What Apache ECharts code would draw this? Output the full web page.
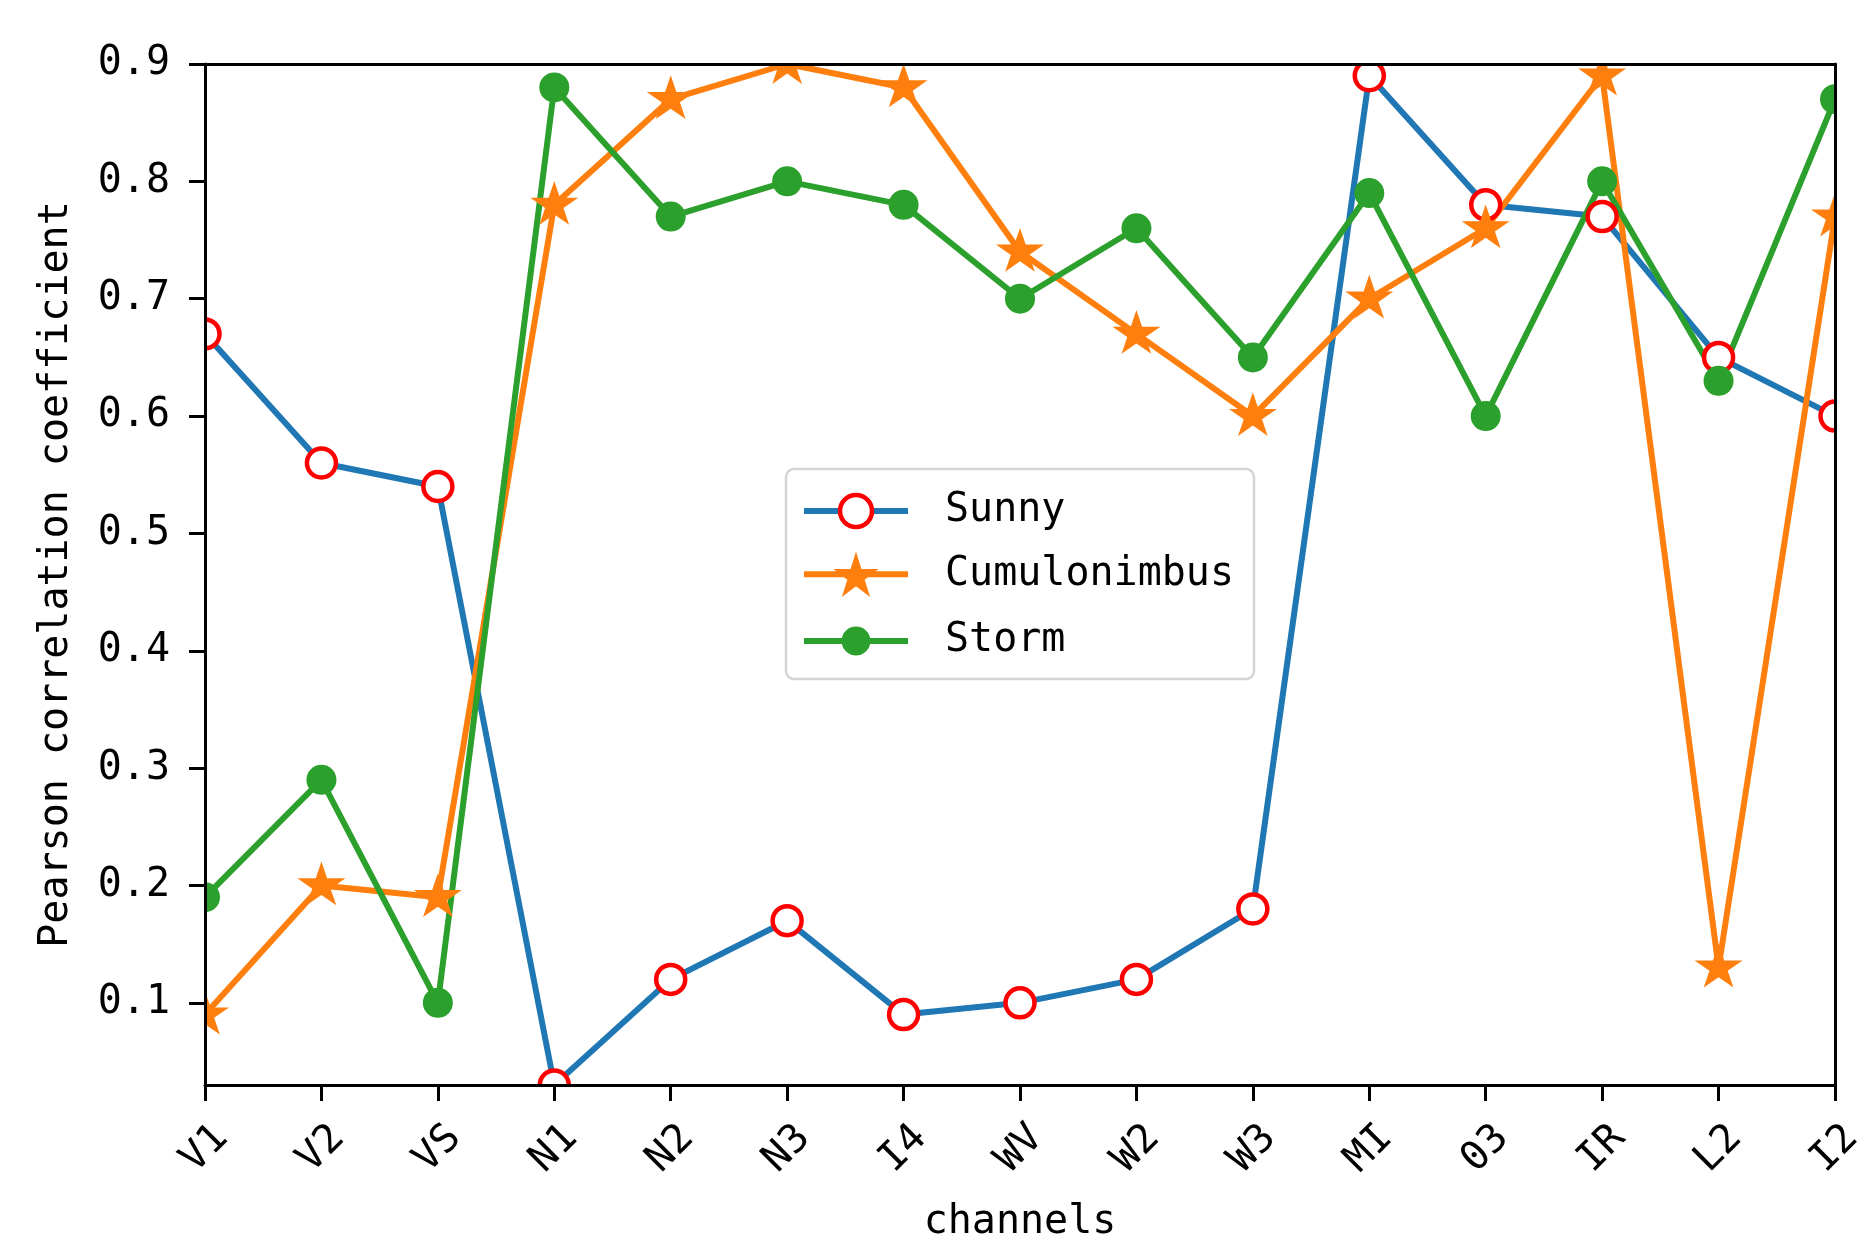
<!DOCTYPE html>
<html>
<head>
<meta charset="utf-8">
<script src="https://cdn.jsdelivr.net/npm/echarts@6/dist/echarts.min.js"></script>
<style>
html,body{margin:0;padding:0;background:#fff;overflow:hidden;}
#chart{width:1860px;height:1240px;}
</style>
</head>
<body>
<div id="chart"></div>
<script>
// ---- data ----
const categories = ['V1','V2','VS','N1','N2','N3','I4','WV','W2','W3','MI','03','IR','L2','I2'];
const sunny        = [0.67,0.56,0.54,0.03,0.12,0.17,0.09,0.10,0.12,0.18,0.89,0.78,0.77,0.65,0.60];
const cumulonimbus = [0.09,0.20,0.19,0.78,0.87,0.90,0.88,0.74,0.67,0.60,0.70,0.76,0.89,0.13,0.77];
const storm        = [0.19,0.29,0.10,0.88,0.77,0.80,0.78,0.70,0.76,0.65,0.79,0.60,0.80,0.63,0.87];
const yTicks = [0.1,0.2,0.3,0.4,0.5,0.6,0.7,0.8,0.9];
const yMin = 0.03, yMax = 0.9;
const seriesNames = ['Sunny','Cumulonimbus','Storm'];
const xName = 'channels';
const yName = 'Pearson correlation coefficient';

// ---- layout / style ----
const W = 1860, H = 1240;
const G = {left:205, right:25, top:64, bottom:155};
const FONT = 'DejaVu Sans Mono';
const FS = 40;
const starPath = 'path://M0,-1 L-0.2245,-0.309 L-0.951,-0.309 L-0.363,0.118 L-0.588,0.809 L0,0.382 L0.588,0.809 L0.363,0.118 L0.951,-0.309 L0.2245,-0.309 Z';

const gx0 = G.left, gx1 = W - G.right, gy0 = G.top, gy1 = H - G.bottom;

function legendFor(name, centerY, itemHeight, itemStyle) {
  const h = Math.max(itemHeight, FS);
  const l = {
    data: [name],
    left: 801,
    top: centerY - h / 2,
    orient: 'horizontal',
    padding: 0,
    itemWidth: 104,
    itemHeight: itemHeight,
    selectedMode: false,
    lineStyle: {width: 6},
    textStyle: {fontFamily: FONT, fontSize: FS, color: '#000', padding: [0,0,0,32]},
    z: 6
  };
  if (itemStyle) l.itemStyle = itemStyle;
  return l;
}

const axisLineStyle = {color: '#000', width: 3};

const option = {
  animation: false,
  backgroundColor: '#fff',
  grid: {left: G.left, right: G.right, top: G.top, bottom: G.bottom, outerBoundsMode: 'none', containLabel: false},
  legend: [
    legendFor('Sunny', 511, 40, {color: '#ffffff', borderColor: '#ff0000', borderWidth: 4.5}),
    legendFor('Cumulonimbus', 580, 57),
    legendFor('Storm', 641, 36)
  ],
  graphic: [
    {type:'rect', z: 5, silent: true, shape:{x:0, y:0, width:W, height:gy0}, style:{fill:'#fff'}},
    {type:'rect', z: 5, silent: true, shape:{x:0, y:gy1, width:W, height:H-gy1}, style:{fill:'#fff'}},
    {type:'rect', z: 5, silent: true, shape:{x:0, y:0, width:gx0, height:H}, style:{fill:'#fff'}},
    {type:'rect', z: 5, silent: true, shape:{x:gx1, y:0, width:W-gx1, height:H}, style:{fill:'#fff'}},
    {type:'rect', z: 5, silent: true, shape:{x:786, y:469, width:468, height:210, r:8},
     style:{fill:'rgba(255,255,255,0.8)', stroke:'#d4d4d4', lineWidth:2.5}}
  ],
  xAxis: [{
    type: 'category',
    data: categories,
    boundaryGap: false,
    z: 10,
    axisLine: {onZero: false, lineStyle: axisLineStyle},
    axisTick: {show: true, length: 16, lineStyle: axisLineStyle},
    axisLabel: {interval: 0, rotate: 45, align: 'center', verticalAlign: 'middle', margin: 64,
      fontFamily: FONT, fontSize: FS, color: '#000'},
    splitLine: {show: false},
    name: xName,
    nameLocation: 'middle',
    nameGap: 118,
    nameTextStyle: {fontFamily: FONT, fontSize: FS, color: '#000'}
  }, {
    type: 'category',
    data: categories,
    boundaryGap: false,
    position: 'top',
    z: 10,
    axisLine: {onZero: false, lineStyle: axisLineStyle},
    axisTick: {show: false},
    axisLabel: {show: false},
    splitLine: {show: false}
  }],
  yAxis: [{
    type: 'value',
    min: yMin,
    max: yMax,
    z: 10,
    axisLine: {show: true, onZero: false, lineStyle: axisLineStyle},
    axisTick: {show: true, length: 16, lineStyle: axisLineStyle, customValues: yTicks},
    axisLabel: {customValues: yTicks, margin: 35, formatter: v => v.toFixed(1),
      fontFamily: FONT, fontSize: FS, color: '#000'},
    splitLine: {show: false},
    name: yName,
    nameLocation: 'middle',
    nameRotate: 90,
    nameGap: 128,
    nameTextStyle: {fontFamily: FONT, fontSize: FS, color: '#000'}
  }, {
    type: 'value',
    min: yMin,
    max: yMax,
    position: 'right',
    z: 10,
    axisLine: {show: true, onZero: false, lineStyle: axisLineStyle},
    axisTick: {show: false},
    axisLabel: {show: false},
    splitLine: {show: false}
  }],
  series: [{
    name: seriesNames[0],
    type: 'line',
    data: sunny,
    symbol: 'circle',
    symbolSize: 29,
    lineStyle: {color: '#1f77b4', width: 6},
    itemStyle: {color: '#ffffff', borderColor: '#ff0000', borderWidth: 4.5},
    emphasis: {disabled: true}
  }, {
    name: seriesNames[1],
    type: 'line',
    data: cumulonimbus,
    symbol: starPath,
    symbolSize: [48, 46],
    symbolKeepAspect: true,
    symbolOffset: [0, -2],
    lineStyle: {color: '#ff7f0e', width: 6},
    itemStyle: {color: '#ff7f0e'},
    emphasis: {disabled: true}
  }, {
    name: seriesNames[2],
    type: 'line',
    data: storm,
    symbol: 'circle',
    symbolSize: 30,
    lineStyle: {color: '#2ca02c', width: 6},
    itemStyle: {color: '#2ca02c'},
    emphasis: {disabled: true}
  }]
};

const chart = echarts.init(document.getElementById('chart'), null, {renderer: 'canvas'});
chart.setOption(option);
</script>
</body>
</html>
